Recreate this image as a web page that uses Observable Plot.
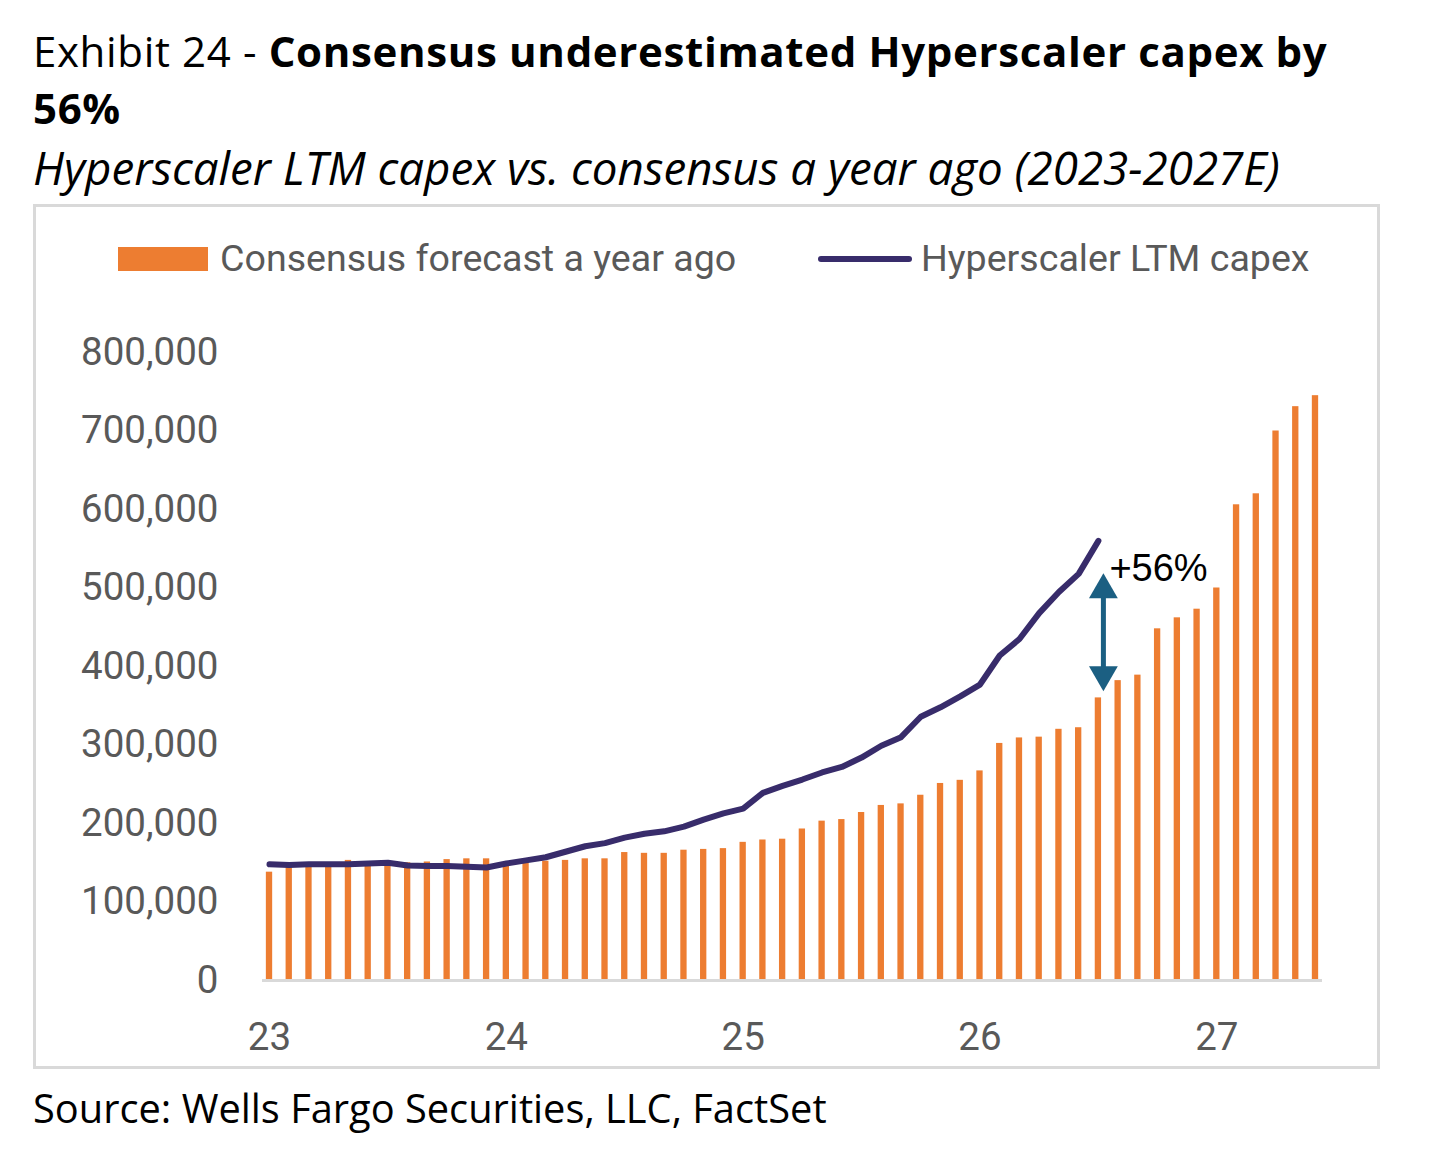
<!DOCTYPE html>
<html><head><meta charset="utf-8">
<script src="https://cdn.jsdelivr.net/npm/d3@7"></script>
<script src="https://cdn.jsdelivr.net/npm/@observablehq/plot@0.6"></script>
<style>
body{margin:0;background:#fff;}
#page{position:relative;width:1440px;height:1166px;overflow:hidden;font-family:"Open Sans",sans-serif;color:#000;}
.t{position:absolute;left:33px;font-size:42px;line-height:43px;height:43px;letter-spacing:0.65px;white-space:nowrap;}
.t b{font-weight:700;}
#subtitle{position:absolute;left:33px;top:145px;font-size:45.7px;line-height:45px;height:45px;font-style:italic;white-space:nowrap;}
#box{position:absolute;left:33px;top:204px;width:1347px;height:865px;border:3px solid #d9d9d9;box-sizing:border-box;}
.lg{position:absolute;font-family:Roboto,sans-serif;font-size:37.6px;line-height:37px;color:#595959;white-space:nowrap;}
#sw1{position:absolute;left:118px;top:247px;width:90px;height:24px;background:#ED7D31;}
#sw2{position:absolute;left:818px;top:256px;width:94px;height:6px;border-radius:3px;background:#382c6b;}
#chart{position:absolute;left:0;top:300px;}
#source{position:absolute;left:33px;top:1088px;font-size:39.8px;line-height:40px;white-space:nowrap;}
</style></head><body>
<div id="page">
  <div class="t" style="top:28.7px;">Exhibit 24 - <b>Consensus underestimated Hyperscaler capex by</b></div>
  <div class="t" style="top:86.2px;font-weight:700;">56%</div>
  <div id="subtitle">Hyperscaler LTM capex vs. consensus a year ago (2023-2027E)</div>
  <div id="box"></div>
  <div id="sw1"></div>
  <div class="lg" id="lg1" style="left:220px;top:240px;">Consensus forecast a year ago</div>
  <div id="sw2"></div>
  <div class="lg" id="lg2" style="left:921px;top:240px;">Hyperscaler LTM capex</div>
  <div id="chart"></div>
  <div id="source">Source: Wells Fargo Securities, LLC, FactSet</div>
</div>
<script>
// Monthly categories Jan 2023 – Jun 2027
const months = d3.utcMonth.range(new Date(Date.UTC(2023, 0, 1)), new Date(Date.UTC(2027, 6, 1))).map(d3.utcFormat("%Y-%m"));

// Consensus forecast a year ago (54 months)
const consensus = [
  138000, 144000, 144000, 144000, 153000, 146000, 148000, 150000, 151000, 154000, 155000, 155000,
  148000, 150000, 152000, 153000, 155000, 155000, 163000, 162000, 162000, 166000, 167000, 168000,
  176000, 179000, 180000, 193000, 203000, 205000, 214000, 223000, 225000, 236000, 251000, 255000,
  267000, 302000, 309000, 310000, 320000, 322000, 360000, 382000, 389000, 448000, 462000, 473000,
  500000, 606000, 620000, 700000, 731000, 745000
];

// Hyperscaler LTM capex (Jan 2023 – Jul 2026, 43 months)
const ltm = [
  148000, 147000, 148000, 148000, 148000, 149000, 150000, 146500, 146000, 146000, 145000, 144000,
  149000, 153000, 157000, 164000, 171000, 175000, 182000, 187000, 190000, 196000, 205000, 213000,
  219000, 239000, 248000, 256000, 265000, 272000, 284000, 299000, 310000, 336000, 348000, 362000,
  377000, 414000, 435000, 468000, 495000, 518000, 560000
];

const yTicks = [0, 100000, 200000, 300000, 400000, 500000, 600000, 700000, 800000];
const yearTicks = ["2023-01", "2024-01", "2025-01", "2026-01", "2027-01"];
const yearLabels = ["23", "24", "25", "26", "27"];

// Annotation
const annotMonth = ["2026-07"];
const arrowTop = [497700];
const arrowBottom = [389700];
const annotLabel = ["+56%"];
const annotLabelY = [524000];

const barData = months.map((m, i) => ({month: m, value: consensus[i]}));
const lineData = ltm.map((v, i) => ({month: months[i], value: v}));
const arrowData = annotMonth.map((m, i) => ({month: m, top: arrowTop[i], bottom: arrowBottom[i]}));
const textData = annotMonth.map((m, i) => ({month: m, y: annotLabelY[i], label: annotLabel[i]}));

const arrowColor = "#1b5f82";

const chart = Plot.plot({
  width: 1440,
  height: 760,
  marginLeft: 262,
  marginRight: 118,
  marginTop: 52,
  marginBottom: 80,
  style: {fontFamily: "Roboto, sans-serif", background: "transparent", color: "#595959", overflow: "visible"},
  x: {type: "band", domain: months, paddingInner: 0.68, paddingOuter: 0.195, axis: null},
  y: {domain: [0, 800000], axis: null},
  marks: [
    Plot.barY(barData, {x: "month", y: "value", fill: "#ED7D31"}),
    Plot.ruleY([0], {stroke: "#d9d9d9", strokeWidth: 3}),
    Plot.line(lineData, {x: "month", y: "value", stroke: "#382c6b", strokeWidth: 6, strokeLinecap: "round", strokeLinejoin: "round"}),
    Plot.axisY({ticks: yTicks, tickSize: 0, tickPadding: 44, fontSize: 38.5, label: null, tickFormat: d3.format(",")}),
    Plot.axisX({ticks: yearTicks, tickSize: 0, tickPadding: 42, fontSize: 38.5, label: null, tickFormat: d => yearLabels[yearTicks.indexOf(d)]}),
    Plot.ruleX(arrowData, {x: "month", y1: "bottom", y2: "top", stroke: arrowColor, strokeWidth: 5, dx: 5}),
    Plot.dot(arrowData, {x: "month", y: "top", symbol: "triangle", r: 10.7, fill: arrowColor, dx: 5}),
    Plot.dot(arrowData, {x: "month", y: "bottom", symbol: "triangle", r: 10.7, fill: arrowColor, rotate: 180, dx: 5}),
    Plot.text(textData, {x: "month", y: "y", text: "label", textAnchor: "start", dx: 11, fontSize: 38, fontFamily: "Liberation Sans, Arial, sans-serif", fill: "#000"})
  ]
});
document.getElementById("chart").appendChild(chart);
</script>
</body></html>
